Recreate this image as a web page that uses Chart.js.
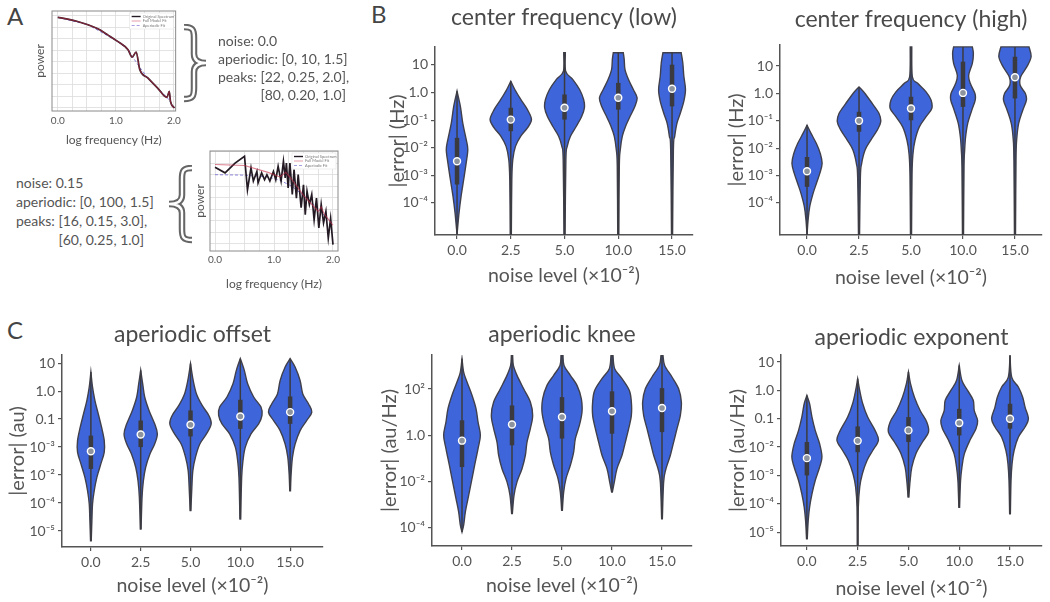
<!DOCTYPE html>
<html>
<head>
<meta charset="utf-8">
<script src="https://cdn.jsdelivr.net/npm/chart.js@4.4.1/dist/chart.umd.min.js"></script>
<style>
  body { margin: 0; background: #fff; }
  #fig { position: relative; width: 1050px; height: 602px; overflow: hidden;
         font-family: Lato, 'DejaVu Sans', sans-serif; color: #555; }
  #fig canvas, #fig .lbl, #fig svg { position: absolute; }
  .letter { font-size: 24px; line-height: 1; color: #444; }
  .note { font-size: 14px; color: #555; white-space: nowrap; }
  .hide { visibility: hidden; }
</style>
</head>
<body>
<div id="fig">
  <div class="lbl letter" style="left:7px;top:4px">A</div>
  <div class="lbl letter" style="left:371px;top:2px">B</div>
  <div class="lbl letter" style="left:7px;top:318px">C</div>

  <canvas id="specClean" width="165" height="152" style="left:20px;top:0"></canvas>
  <canvas id="specNoisy" width="165" height="160" style="left:180px;top:140px"></canvas>

  <svg width="30" height="80" style="left:181px;top:24px">
    <path d="M3 3 C12 3 13 6 13 14 L13 30 C13 36 17 39 25 39 C17 39 13 42 13 48 L13 64 C13 72 12 75 3 75"
          fill="none" stroke="#666" stroke-width="6.5"/>
    <path d="M3 3 C12 3 13 6 13 14 L13 30 C13 36 17 39 25 39 C17 39 13 42 13 48 L13 64 C13 72 12 75 3 75"
          fill="none" stroke="#fff" stroke-width="2.4"/>
  </svg>
  <svg width="34" height="80" style="left:162px;top:165px">
    <path d="M30 3 C21 3 20 6 20 14 L20 30 C20 36 16 39 7 39 C16 39 20 42 20 48 L20 64 C20 72 21 75 30 75"
          fill="none" stroke="#666" stroke-width="6.5"/>
    <path d="M30 3 C21 3 20 6 20 14 L20 30 C20 36 16 39 7 39 C16 39 20 42 20 48 L20 64 C20 72 21 75 30 75"
          fill="none" stroke="#fff" stroke-width="2.4"/>
  </svg>

  <div class="lbl note" style="left:218px;top:32px;line-height:18px">
    noise: 0.0<br>aperiodic: [0, 10, 1.5]<br>peaks: [22, 0.25, 2.0],<br><span class="hide">peaks: </span>[80, 0.20, 1.0]
  </div>
  <div class="lbl note" style="left:16px;top:173px;line-height:19px">
    noise: 0.15<br>aperiodic: [0, 100, 1.5]<br>peaks: [16, 0.15, 3.0],<br><span class="hide">peaks: </span>[60, 0.25, 1.0]
  </div>

  <canvas id="cfLow" width="340" height="300" style="left:360px;top:0"></canvas>
  <canvas id="cfHigh" width="350" height="300" style="left:700px;top:0"></canvas>
  <canvas id="apOffset" width="345" height="302" style="left:0;top:300px"></canvas>
  <canvas id="apKnee" width="340" height="302" style="left:360px;top:300px"></canvas>
  <canvas id="apExp" width="350" height="302" style="left:700px;top:300px"></canvas>
</div>

<script>
// ─── DATA ─────────────────────────────────────────────────
const noiseLevels = ['0.0', '2.5', '5.0', '10.0', '15.0'];

// panel A: log frequency vs log power
const cleanFreq  = [0.00, 0.17, 0.34, 0.52, 0.69, 0.86, 1.03, 1.21, 1.28, 1.35, 1.41, 1.55, 1.72, 1.88, 1.92, 1.94, 2.01];
const cleanPower = [-1.04, -1.08, -1.13, -1.20, -1.29, -1.42, -1.56, -1.74, -1.90, -1.79, -2.16, -2.35, -2.57, -2.77, -2.64, -2.85, -3.00];
const cleanApFreq  = [0.00, 0.52, 1.03, 1.21, 1.28, 1.41, 1.55, 1.72, 1.88, 1.94, 2.01];
const cleanApPower = [-1.04, -1.20, -1.56, -1.74, -1.88, -2.12, -2.35, -2.57, -2.77, -2.87, -3.00];

const noisyFreq  = [0.00, 0.17, 0.34, 0.50, 0.55, 0.61, 0.65, 0.71, 0.73, 0.79, 0.84, 0.88, 0.93, 0.99, 1.03, 1.07, 1.12,
                    1.16, 1.19, 1.21, 1.24, 1.27, 1.31, 1.34, 1.38, 1.41, 1.46, 1.50, 1.53, 1.56, 1.60, 1.64, 1.68,
                    1.72, 1.76, 1.80, 1.84, 1.88, 1.92, 1.96, 2.00];
const noisyPower = [-1.84, -1.96, -1.75, -1.60, -2.33, -1.85, -2.14, -1.93, -2.18, -1.96, -2.11, -2.00, -2.14, -1.93, -2.11, -1.82, -2.14,
                    -1.71, -2.07, -1.75, -2.29, -1.75, -2.43, -1.89, -2.51, -2.00, -2.72, -2.22, -2.87, -2.36, -2.65, -2.43, -2.98,
                    -2.51, -3.16, -2.65, -3.05, -2.80, -3.38, -2.95, -3.52];
const noisyFitFreq  = [0.00, 0.50, 0.90, 1.10, 1.20, 1.30, 1.50, 1.75, 1.80, 1.85, 2.00];
const noisyFitPower = [-1.78, -1.80, -1.95, -2.05, -1.95, -2.10, -2.45, -2.80, -2.70, -2.85, -3.10];
const noisyApFreq  = [0.00, 0.50, 0.90, 1.10, 1.30, 1.50, 1.70, 1.90, 2.00];
const noisyApPower = [-2.00, -2.01, -2.05, -2.12, -2.25, -2.45, -2.68, -2.95, -3.08];

// grid positions of the small spectra
const specFreqGrid = [0, 0.25, 0.5, 0.75, 1, 1.25, 1.5, 1.75, 2];
const cleanPowerGrid = [-3, -2.75, -2.5, -2.25, -2, -1.75, -1.5, -1.25, -1];
const noisyPowerGrid = [-3.5, -3.25, -3, -2.75, -2.5, -2.25, -2, -1.75, -1.5];

// panels B, C: violin outlines per noise level, [log10 |error|, half width in category units], top to bottom
const cfLowShapes = [
  [[0.05, 0], [-0.5, 0.062], [-1.09, 0.105], [-1.7, 0.17], [-2.06, 0.2], [-2.55, 0.17], [-3.15, 0.124], [-3.76, 0.075], [-4.36, 0.037], [-5.14, 0]],
  [[0.41, 0], [0.11, 0.075], [-0.25, 0.186], [-0.62, 0.31], [-0.98, 0.385], [-1.28, 0.31], [-1.58, 0.186], [-1.95, 0.087], [-2.43, 0.037], [-3.15, 0.019], [-5.16, 0.01]],
  [[1.44, 0.015], [0.77, 0.02], [0.47, 0.155], [0.11, 0.28], [-0.25, 0.355], [-0.55, 0.37], [-0.86, 0.32], [-1.22, 0.22], [-1.58, 0.11], [-1.95, 0.05], [-2.43, 0.025], [-5.16, 0.01]],
  [[1.44, 0.093], [1.2, 0.11], [0.83, 0.125], [0.47, 0.19], [0.11, 0.28], [-0.19, 0.35], [-0.5, 0.31], [-0.86, 0.22], [-1.22, 0.136], [-1.58, 0.075], [-2.07, 0.037], [-2.67, 0.019], [-5.16, 0.01]],
  [[1.44, 0.17], [1.08, 0.2], [0.59, 0.22], [0.11, 0.25], [-0.31, 0.22], [-0.74, 0.155], [-1.1, 0.093], [-1.58, 0.05], [-2.07, 0.025], [-5.16, 0.01]],
];
const cfLowQ1  = [-3.33, -1.40, -0.98, -0.62, -0.50];
const cfLowMed = [-2.49, -0.98, -0.55, -0.19, 0.14];
const cfLowQ3  = [-1.64, -0.55, -0.07, 0.35, 1.01];

const cfHighShapes = [
  [[-1.16, 0], [-1.46, 0.077], [-1.83, 0.18], [-2.2, 0.256], [-2.56, 0.29], [-2.93, 0.244], [-3.29, 0.18], [-3.66, 0.115], [-4.15, 0.05], [-4.63, 0.02], [-5.17, 0]],
  [[0.24, 0], [0, 0.115], [-0.37, 0.256], [-0.73, 0.385], [-1.04, 0.417], [-1.34, 0.35], [-1.71, 0.224], [-2.07, 0.115], [-2.56, 0.05], [-3.05, 0.026], [-5.17, 0.01]],
  [[1.7, 0.015], [0.61, 0.026], [0.37, 0.128], [0.06, 0.29], [-0.24, 0.385], [-0.55, 0.4], [-0.85, 0.29], [-1.22, 0.16], [-1.71, 0.077], [-2.2, 0.038], [-2.93, 0.02], [-5.17, 0.01]],
  [[1.7, 0.18], [1.46, 0.2], [1.1, 0.18], [0.67, 0.11], [0.37, 0.14], [0, 0.23], [-0.24, 0.235], [-0.61, 0.17], [-1.1, 0.09], [-1.59, 0.05], [-2.07, 0.032], [-2.68, 0.02], [-5.17, 0.01]],
  [[1.7, 0.27], [1.34, 0.31], [0.98, 0.23], [0.61, 0.11], [0.3, 0.1], [0, 0.2], [-0.24, 0.22], [-0.61, 0.15], [-1.1, 0.07], [-1.71, 0.032], [-2.44, 0.02], [-5.17, 0.01]],
];
const cfHighQ1  = [-3.41, -1.40, -0.98, -0.49, -0.18];
const cfHighMed = [-2.84, -1.00, -0.55, 0.02, 0.59];
const cfHighQ3  = [-2.32, -0.67, -0.12, 1.16, 1.34];

const offsetShapes = [
  [[0.68, 0], [0.14, 0.033], [-0.33, 0.08], [-0.81, 0.147], [-1.29, 0.214], [-1.77, 0.268], [-2.18, 0.268], [-2.6, 0.2], [-3.08, 0.12], [-3.56, 0.067], [-4.03, 0.033], [-4.63, 0.02], [-5.35, 0.007]],
  [[0.74, 0], [0.26, 0.04], [-0.21, 0.08], [-0.69, 0.167], [-1.17, 0.28], [-1.53, 0.334], [-1.89, 0.28], [-2.24, 0.187], [-2.72, 0.1], [-3.2, 0.054], [-3.79, 0.027], [-4.93, 0.007]],
  [[0.98, 0], [0.38, 0.054], [-0.1, 0.12], [-0.51, 0.234], [-0.87, 0.368], [-1.17, 0.415], [-1.53, 0.32], [-1.89, 0.187], [-2.36, 0.1], [-2.84, 0.047], [-3.44, 0.027], [-4.27, 0.007]],
  [[1.16, 0], [0.74, 0.08], [0.26, 0.147], [-0.21, 0.268], [-0.57, 0.415], [-0.87, 0.435], [-1.17, 0.368], [-1.53, 0.214], [-2.0, 0.1], [-2.48, 0.054], [-3.08, 0.027], [-4.57, 0.007]],
  [[1.16, 0], [0.86, 0.1], [0.38, 0.2], [-0.1, 0.254], [-0.45, 0.368], [-0.75, 0.435], [-1.05, 0.334], [-1.41, 0.2], [-1.89, 0.1], [-2.36, 0.047], [-2.96, 0.02], [-3.56, 0.007]],
];
const offsetQ1  = [-2.78, -2.00, -1.62, -1.35, -1.17];
const offsetMed = [-2.15, -1.55, -1.20, -0.91, -0.75];
const offsetQ3  = [-1.59, -1.05, -0.69, -0.31, -0.19];

const kneeShapes = [
  [[3.31, 0], [2.73, 0.033], [2.3, 0.1], [1.73, 0.2], [1.15, 0.28], [0.58, 0.32], [0, 0.367], [-0.58, 0.32], [-1.29, 0.253], [-2.01, 0.187], [-2.73, 0.12], [-3.31, 0.067], [-3.88, 0.033], [-4.17, 0]],
  [[3.45, 0.013], [3.02, 0.027], [2.59, 0.1], [2.01, 0.233], [1.44, 0.367], [0.86, 0.413], [0.29, 0.367], [-0.29, 0.3], [-0.86, 0.267], [-1.44, 0.2], [-2.01, 0.1], [-2.59, 0.04], [-3.38, 0.007]],
  [[3.45, 0.02], [3.02, 0.04], [2.59, 0.167], [2.16, 0.3], [1.58, 0.387], [1.01, 0.4], [0.43, 0.347], [-0.14, 0.267], [-0.72, 0.233], [-1.29, 0.167], [-1.87, 0.08], [-2.45, 0.033], [-3.24, 0.007]],
  [[3.45, 0.02], [2.88, 0.053], [2.45, 0.2], [1.94, 0.347], [1.44, 0.387], [0.86, 0.387], [0.29, 0.333], [-0.29, 0.267], [-0.86, 0.2], [-1.44, 0.1], [-2.01, 0.047], [-2.45, 0.007]],
  [[3.45, 0.02], [3.02, 0.053], [2.52, 0.2], [2.01, 0.333], [1.44, 0.387], [0.86, 0.367], [0.29, 0.3], [-0.29, 0.233], [-0.86, 0.167], [-1.44, 0.08], [-2.01, 0.033], [-3.6, 0.007]],
];
const kneeQ1  = [-1.37, -0.43, -0.14, 0.07, 0.14];
const kneeMed = [-0.23, 0.47, 0.79, 1.04, 1.18];
const kneeQ3  = [0.65, 1.29, 1.65, 1.90, 2.04];

const expShapes = [
  [[-0.18, 0], [-0.47, 0.053], [-0.94, 0.1], [-1.41, 0.164], [-1.88, 0.25], [-2.35, 0.296], [-2.71, 0.25], [-3.18, 0.164], [-3.65, 0.1], [-4.12, 0.053], [-4.59, 0.026], [-5.24, 0.007]],
  [[0.41, 0], [0, 0.04], [-0.47, 0.1], [-0.94, 0.197], [-1.41, 0.342], [-1.76, 0.408], [-2.12, 0.296], [-2.47, 0.184], [-2.94, 0.092], [-3.41, 0.04], [-4.12, 0.013], [-5.49, 0.007]],
  [[0.65, 0], [0.24, 0.04], [-0.24, 0.118], [-0.71, 0.23], [-1.12, 0.362], [-1.47, 0.395], [-1.82, 0.276], [-2.24, 0.145], [-2.71, 0.066], [-3.18, 0.033], [-3.76, 0.007]],
  [[0.88, 0], [0.35, 0.053], [0, 0.164], [-0.35, 0.276], [-0.71, 0.296], [-1.06, 0.362], [-1.35, 0.33], [-1.76, 0.21], [-2.24, 0.1], [-2.71, 0.053], [-3.18, 0.026], [-4.12, 0.007]],
  [[1.24, 0], [0.47, 0.033], [0.12, 0.164], [-0.24, 0.25], [-0.59, 0.296], [-1.0, 0.362], [-1.29, 0.296], [-1.65, 0.164], [-2.12, 0.08], [-2.59, 0.04], [-3.18, 0.02], [-4.35, 0.007]],
];
const expQ1  = [-3.00, -2.18, -1.82, -1.59, -1.35];
const expMed = [-2.39, -1.78, -1.41, -1.15, -1.00];
const expQ3  = [-1.82, -1.27, -0.94, -0.65, -0.47];

// y tick positions (log10) and their printed labels
const cfTickVals = [-4, -3, -2, -1, 0, 1];
const cfTickLabels = ['10⁻⁴', '10⁻³', '10⁻²', '10⁻¹', '1.0', '10'];
const offsetTickVals = [-5, -4, -3, -2, -1, 0, 1];
const offsetTickLabels = ['10⁻⁵', '10⁻⁴', '10⁻²', '10⁻³', '0.1', '1.0', '10'];
const kneeTickVals = [-4, -2, 0, 2];
const kneeTickLabels = ['10⁻⁴', '10⁻²', '1.0', '10²'];
const expTickVals = [-5, -4, -3, -2, -1, 0, 1];
const expTickLabels = ['10⁻⁵', '10⁻⁴', '10⁻³', '10⁻²', '0.1', '1.0', '10'];

// ─── STYLE ────────────────────────────────────────────────
const FONT = "Lato, 'DejaVu Sans', sans-serif";
const INK = '#555';
Chart.defaults.font.family = FONT;
Chart.defaults.color = INK;
Chart.defaults.animation = false;

const zip = (xs, ys) => xs.map((x, i) => ({ x, y: ys[i] }));

// Catmull-Rom through the outline points, kept on its own side of the centre line
function traceSide(ctx, pts, start, cx, dir) {
  const keep = c => (dir > 0 ? Math.max(c, cx) : Math.min(c, cx));
  if (start) ctx.moveTo(pts[0].x, pts[0].y); else ctx.lineTo(pts[0].x, pts[0].y);
  for (let k = 0; k < pts.length - 1; k++) {
    const p0 = pts[k - 1] || pts[k], p1 = pts[k], p2 = pts[k + 1], p3 = pts[k + 2] || pts[k + 1];
    ctx.bezierCurveTo(
      keep(p1.x + (p2.x - p0.x) / 6), p1.y + (p2.y - p0.y) / 6,
      keep(p2.x - (p3.x - p1.x) / 6), p2.y - (p3.y - p1.y) / 6,
      p2.x, p2.y);
  }
}

function violinPlugin(shapes, q1, q3) {
  return {
    id: 'violins',
    beforeDatasetsDraw(chart) {
      const { ctx, chartArea: a, scales: { x, y } } = chart;
      const unit = x.getPixelForValue(1) - x.getPixelForValue(0);
      ctx.save();
      ctx.beginPath();
      ctx.rect(a.left, a.top, a.width, a.height);
      ctx.clip();
      shapes.forEach((shape, i) => {
        const cx = x.getPixelForValue(i);
        const right = shape.map(([v, w]) => ({ x: cx + w * unit, y: y.getPixelForValue(v) }));
        const left = right.map(p => ({ x: 2 * cx - p.x, y: p.y })).reverse();
        ctx.beginPath();
        traceSide(ctx, right, true, cx, 1);
        traceSide(ctx, left, false, cx, -1);
        ctx.closePath();
        ctx.fillStyle = '#3e66da';
        ctx.fill();
        ctx.lineWidth = 1.4;
        ctx.strokeStyle = '#40404c';
        ctx.stroke();

        ctx.strokeStyle = '#3b3b3f';
        ctx.lineCap = 'butt';
        ctx.beginPath();
        ctx.moveTo(cx, right[0].y);
        ctx.lineTo(cx, right[right.length - 1].y);
        ctx.lineWidth = 1.5;
        ctx.stroke();
        ctx.beginPath();
        ctx.moveTo(cx, y.getPixelForValue(q3[i]));
        ctx.lineTo(cx, y.getPixelForValue(q1[i]));
        ctx.lineWidth = 4.5;
        ctx.stroke();
      });
      ctx.restore();
    }
  };
}

function titlePlugin(text, ty) {
  return {
    id: 'areaTitle',
    afterDraw(chart) {
      const { ctx, chartArea: a } = chart;
      ctx.save();
      ctx.font = '23px ' + FONT;
      ctx.fillStyle = '#4a4a4a';
      ctx.textAlign = 'center';
      ctx.textBaseline = 'middle';
      ctx.fillText(text, (a.left + a.right) / 2, ty);
      ctx.restore();
    }
  };
}

function violinChart(id, d, L) {
  const axisLine = { display: true, color: INK, width: 1.5 };
  const tickMarks = { drawOnChartArea: false, drawTicks: true, tickLength: 4, color: INK, lineWidth: 1.2 };
  new Chart(document.getElementById(id), {
    type: 'scatter',
    data: {
      datasets: [{
        data: d.med.map((m, i) => ({ x: i, y: m })),
        pointRadius: 3.5,
        pointBackgroundColor: '#8e949e',
        pointBorderColor: '#fff',
        pointBorderWidth: 1.4,
      }]
    },
    options: {
      responsive: false,
      layout: { padding: { left: 0, top: L.top, right: L.right, bottom: 0 } },
      plugins: { legend: { display: false }, tooltip: { enabled: false } },
      scales: {
        x: {
          type: 'linear', min: d.xMin, max: d.xMax,
          afterBuildTicks: s => { s.ticks = noiseLevels.map((_, i) => ({ value: i })); },
          afterFit: s => { s.height = L.xh; },
          ticks: { callback: (v, i) => noiseLevels[i], font: { size: 14 }, color: INK, maxRotation: 0, autoSkip: false },
          grid: tickMarks, border: axisLine,
          title: { display: true, text: 'noise level (×10⁻²)', font: { size: 19.5 }, color: INK, padding: { top: 0, bottom: L.xtp } },
        },
        y: {
          type: 'linear', min: d.yMin, max: d.yMax,
          afterBuildTicks: s => { s.ticks = d.tickVals.map(v => ({ value: v })); },
          afterFit: s => { s.width = L.yw; },
          ticks: { callback: (v, i) => d.tickLabels[i], font: { size: 14 }, color: INK, autoSkip: false },
          grid: tickMarks, border: axisLine,
          title: { display: true, text: d.yTitle, font: { size: 20 }, color: INK, padding: { top: L.ytp, bottom: 0 } },
        }
      }
    },
    plugins: [violinPlugin(d.shapes, d.q1, d.q3), titlePlugin(d.title, L.ty)]
  });
}

// frame plus a tiny legend box in the upper right, as in the small spectra
const specDecor = {
  id: 'specDecor',
  afterDraw(chart) {
    const { ctx, chartArea: a } = chart;
    ctx.save();
    ctx.strokeStyle = '#8a8a8a';
    ctx.lineWidth = 1;
    ctx.strokeRect(a.left, a.top, a.width, a.height);

    const bx = a.right - 46, by = a.top + 2;
    ctx.fillStyle = '#fff';
    ctx.fillRect(bx, by, 44, 16);
    ctx.strokeStyle = '#ddd';
    ctx.lineWidth = 0.5;
    ctx.strokeRect(bx, by, 44, 16);
    ctx.font = '4px ' + FONT;
    ctx.textBaseline = 'middle';
    chart.data.datasets.forEach((ds, i) => {
      const ly = by + 3.5 + i * 4.5;
      ctx.strokeStyle = ds.borderColor;
      ctx.lineWidth = i === 0 ? 1.4 : 0.8;
      ctx.setLineDash(ds.borderDash || []);
      ctx.beginPath();
      ctx.moveTo(bx + 2, ly);
      ctx.lineTo(bx + 11, ly);
      ctx.stroke();
      ctx.setLineDash([]);
      ctx.fillStyle = '#777';
      ctx.fillText(ds.label, bx + 13, ly);
    });
    ctx.restore();
  }
};

function spectrumChart(id, d, L) {
  const gridLines = { color: '#dcdcdc', drawTicks: false, lineWidth: 0.8 };
  const curve = d.smooth ? 'monotone' : 'default';
  new Chart(document.getElementById(id), {
    type: 'line',
    data: {
      datasets: [
        { label: 'Original Spectrum', data: zip(d.origF, d.origP), borderColor: '#241a24', borderWidth: 1.7, pointRadius: 0, order: 2, cubicInterpolationMode: curve, tension: 0 },
        { label: 'Full Model Fit', data: zip(d.fitF, d.fitP), borderColor: 'rgba(196,44,72,0.6)', borderWidth: 1.1, pointRadius: 0, order: 1, cubicInterpolationMode: curve, tension: 0 },
        { label: 'Aperiodic Fit', data: zip(d.apF, d.apP), borderColor: 'rgba(130,120,215,0.9)', borderWidth: 1, borderDash: [3, 2], pointRadius: 0, order: 3 },
      ]
    },
    options: {
      responsive: false,
      layout: { padding: { left: 0, top: L.top, right: L.right, bottom: 0 } },
      plugins: { tooltip: { enabled: false }, legend: { display: false } },
      scales: {
        x: {
          type: 'linear', min: d.xMin, max: d.xMax,
          afterBuildTicks: s => { s.ticks = specFreqGrid.map(v => ({ value: v })); },
          afterFit: s => { s.height = L.xh; },
          ticks: { autoSkip: false, maxRotation: 0, padding: L.tickPad, font: { size: 10 }, color: INK,
                   callback: v => (Number.isInteger(v) ? v.toFixed(1) : '') },
          grid: gridLines, border: { display: false },
          title: { display: true, text: 'log frequency (Hz)', font: { size: 12 }, color: INK, padding: { top: 0, bottom: L.xtp } },
        },
        y: {
          type: 'linear', min: d.yMin, max: d.yMax,
          afterBuildTicks: s => { s.ticks = d.powerGrid.map(v => ({ value: v })); },
          afterFit: s => { s.width = L.yw; },
          ticks: { display: false },
          grid: gridLines, border: { display: false },
          title: { display: true, text: 'power', font: { size: 12 }, color: INK, padding: { top: 12.8, bottom: 0 } },
        }
      }
    },
    plugins: [specDecor]
  });
}

// ─── CHARTS ───────────────────────────────────────────────
spectrumChart('specClean', {
  origF: cleanFreq, origP: cleanPower, fitF: cleanFreq, fitP: cleanPower,
  apF: cleanApFreq, apP: cleanApPower, smooth: true, powerGrid: cleanPowerGrid,
  xMin: -0.1, xMax: 2.03, yMin: -3.065, yMax: -0.904,
}, { top: 11, right: 8, yw: 32, xh: 41, xtp: 4.8, tickPad: 4 });

spectrumChart('specNoisy', {
  origF: noisyFreq, origP: noisyPower, fitF: noisyFitFreq, fitP: noisyFitPower,
  apF: noisyApFreq, apP: noisyApPower, smooth: false, powerGrid: noisyPowerGrid,
  xMin: -0.085, xMax: 2.085, yMin: -3.66, yMax: -1.485,
}, { top: 11, right: 7, yw: 30, xh: 49, xtp: 8.8, tickPad: 3 });

violinChart('cfLow', {
  shapes: cfLowShapes, q1: cfLowQ1, med: cfLowMed, q3: cfLowQ3,
  tickVals: cfTickVals, tickLabels: cfTickLabels, yMin: -5.16, yMax: 1.65, xMin: -0.41, xMax: 4.39,
  title: 'center frequency (low)', yTitle: '|error| (Hz)',
}, { top: 47, right: 7, yw: 75, xh: 65, xtp: 13, ytp: 26, ty: 18 });

violinChart('cfHigh', {
  shapes: cfHighShapes, q1: cfHighQ1, med: cfHighMed, q3: cfHighQ3,
  tickVals: cfTickVals, tickLabels: cfTickLabels, yMin: -5.17, yMax: 1.77, xMin: -0.52, xMax: 4.52,
  title: 'center frequency (high)', yTitle: '|error| (Hz)',
}, { top: 45, right: 8, yw: 80, xh: 65, xtp: 11, ytp: 25, ty: 20 });

violinChart('apOffset', {
  shapes: offsetShapes, q1: offsetQ1, med: offsetMed, q3: offsetQ3,
  tickVals: offsetTickVals, tickLabels: offsetTickLabels, yMin: -5.57, yMax: 1.29, xMin: -0.58, xMax: 4.66,
  title: 'aperiodic offset', yTitle: '|error| (au)',
}, { top: 55, right: 22, yw: 62, xh: 55, xtp: 5, ytp: 6, ty: 35 });

violinChart('apKnee', {
  shapes: kneeShapes, q1: kneeQ1, med: kneeMed, q3: kneeQ3,
  tickVals: kneeTickVals, tickLabels: kneeTickLabels, yMin: -4.78, yMax: 3.47, xMin: -0.6, xMax: 4.6,
  title: 'aperiodic knee', yTitle: '|error| (au/Hz)',
}, { top: 55, right: 8, yw: 72, xh: 56, xtp: 5, ytp: 18, ty: 35 });

violinChart('apExp', {
  shapes: expShapes, q1: expQ1, med: expMed, q3: expQ3,
  tickVals: expTickVals, tickLabels: expTickLabels, yMin: -5.49, yMax: 1.25, xMin: -0.51, xMax: 4.63,
  title: 'aperiodic exponent', yTitle: '|error| (au/Hz)',
}, { top: 55, right: 8, yw: 81, xh: 56, xtp: 2, ytp: 26, ty: 38 });
</script>
</body>
</html>
